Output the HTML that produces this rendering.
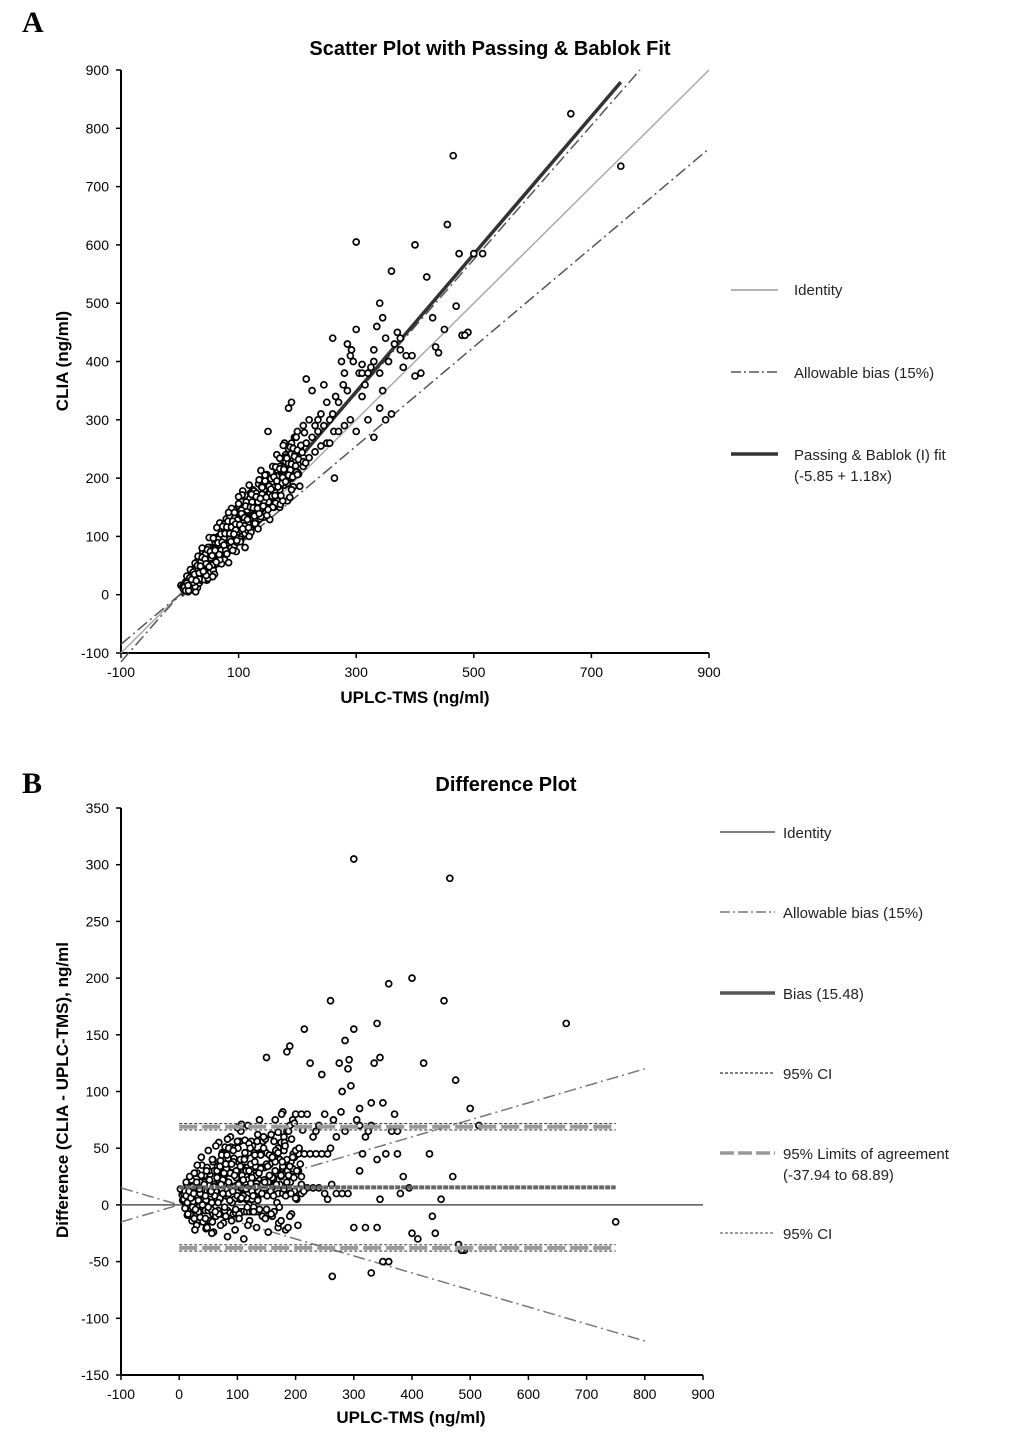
<!DOCTYPE html>
<html><head><meta charset="utf-8"><style>
body{margin:0;background:#fff;}
svg text{font-family:"Liberation Sans",Arial,sans-serif;}
</style></head><body>
<svg id="s" width="1033" height="1439" xmlns="http://www.w3.org/2000/svg">
<text x="22" y="32" font-weight="bold" font-size="30" style="font-family:'Liberation Serif',serif">A</text>
<text x="22" y="793" font-weight="bold" font-size="30" style="font-family:'Liberation Serif',serif">B</text>
<text x="490" y="55" text-anchor="middle" font-weight="bold" font-size="20">Scatter Plot with Passing &amp; Bablok Fit</text>
<text x="506" y="791" text-anchor="middle" font-weight="bold" font-size="20">Difference Plot</text>
<text transform="translate(68,361) rotate(-90)" text-anchor="middle" font-weight="bold" font-size="17">CLIA (ng/ml)</text>
<text x="415" y="703" text-anchor="middle" font-weight="bold" font-size="17">UPLC-TMS (ng/ml)</text>
<text transform="translate(68,1090) rotate(-90)" text-anchor="middle" font-weight="bold" font-size="17">Difference (CLIA - UPLC-TMS), ng/ml</text>
<text x="411" y="1423" text-anchor="middle" font-weight="bold" font-size="17">UPLC-TMS (ng/ml)</text>
<g font-size="15" fill="#222">
<g><line x1="731" x2="778" y1="290" y2="290" stroke="#999" stroke-width="1.5"/><text x="794" y="295">Identity</text></g>
<g><line x1="731" x2="778" y1="372" y2="372" stroke="#555" stroke-width="1.5" stroke-dasharray="10,3,2,3"/><text x="794" y="378">Allowable bias (15%)</text></g>
<g><line x1="731" x2="778" y1="454" y2="454" stroke="#333" stroke-width="3.5"/><text x="794" y="460">Passing &amp; Bablok (I) fit</text><text x="794" y="481">(-5.85 + 1.18x)</text></g>
<g><line x1="720" x2="775" y1="832" y2="832" stroke="#555" stroke-width="1.5"/><text x="783" y="838">Identity</text></g>
<g><line x1="720" x2="775" y1="912" y2="912" stroke="#777" stroke-width="1.5" stroke-dasharray="10,3,2,3"/><text x="783" y="918">Allowable bias (15%)</text></g>
<g><line x1="720" x2="775" y1="993" y2="993" stroke="#555" stroke-width="3.5"/><text x="783" y="999">Bias (15.48)</text></g>
<g><line x1="720" x2="775" y1="1073" y2="1073" stroke="#333" stroke-width="1.3" stroke-dasharray="3,2"/><text x="783" y="1079">95% CI</text></g>
<g><line x1="720" x2="775" y1="1153" y2="1153" stroke="#999" stroke-width="3.5" stroke-dasharray="14,4"/><text x="783" y="1159">95% Limits of agreement</text><text x="783" y="1180">(-37.94 to 68.89)</text></g>
<g><line x1="720" x2="775" y1="1233" y2="1233" stroke="#666" stroke-width="1.3" stroke-dasharray="3,2"/><text x="783" y="1239">95% CI</text></g>
</g>
<g id="ga"></g>
<g id="gb"></g>
</svg>
<script>
const uplc=[2,5,8,10,12,15,18,20,22,25,28,30,14,24,6,27,19,33,
32,35,38,40,42,45,48,50,52,55,58,60,36,44,53,57,47,39,62,34,41,49,56,59,46,
62,65,68,70,72,75,78,80,82,85,88,90,92,95,98,100,64,67,73,77,83,87,93,97,66,74,79,84,89,94,99,71,76,81,86,91,96,63,69,101,103,105,60,70,80,90,100,85,95,75,
102,105,108,110,112,115,118,120,122,125,128,130,132,135,138,140,142,145,148,150,106,111,116,121,126,131,136,141,146,104,113,119,124,129,134,139,144,149,117,127,137,147,109,114,123,133,143,107,150,115,120,125,
152,155,158,160,162,165,168,170,172,175,178,180,182,185,188,190,192,195,198,200,205,210,215,220,225,230,235,240,245,250,160,170,180,190,200,210,220,230,240,250,185,190,215,225,235,245,155,175,195,205,165,178,263,170,160,
255,260,262,265,270,275,278,280,285,290,292,295,300,305,310,315,320,325,330,335,340,345,350,355,360,365,370,375,380,385,300,320,330,340,350,360,255,270,280,290,260,285,310,375,340,310,330,
300,400,420,455,465,500,515,665,750,430,440,470,480,490,400,410,435,395,475,450,345,485];
const clia=[16,14,18,12,20,10,22,15,8,25,18,12,5,30,10,5,28,20,
40,30,48,35,55,40,60,45,38,65,50,72,25,30,80,42,70,60,55,50,45,52,58,35,25,
80,70,90,75,95,85,100,88,110,92,105,98,120,100,115,108,58,62,65,70,78,80,85,90,100,120,130,125,140,135,150,110,60,95,115,105,125,75,85,130,95,120,90,100,115,118,125,135,145,108,
140,110,130,125,145,120,140,135,155,130,150,145,165,140,160,150,175,155,170,160,100,105,110,115,120,125,130,135,140,160,170,165,180,175,190,185,200,195,150,160,170,180,118,132,142,152,162,178,280,130,120,150,
175,190,180,200,185,210,195,220,200,230,210,240,215,250,225,260,230,270,240,280,250,290,260,300,270,290,280,310,290,330,170,180,190,200,210,220,235,245,255,260,320,330,370,350,300,360,165,200,225,235,240,260,200,150,150,
300,310,280,340,330,400,360,380,350,410,420,400,455,380,340,360,380,390,420,460,500,475,440,400,555,430,450,420,390,410,280,300,270,320,300,310,260,280,290,300,440,430,380,440,380,395,400,
605,600,545,635,753,585,585,825,735,475,415,495,445,450,375,380,425,410,585,455,350,445];
const clusterUplc=[8,10,13,16,19,21,24,26,29,31,34,36,39,41,43,46,48,51,53,56,58,61,63,66,68,71,73,76,78,81,83,86,88,91,93,96,98,101,103,106,108,111,113,116,118,121,123,126,128,131,133,136,138,141,143,146,148,151,153,156,158,161,163,166,168,171,173,176,178,181,183,186,188,191,193,196,198,202,206,210];
const clusterDiff1=[5,-3,18,9,-8,22,3,-12,15,28,-6,10,35,-15,20,4,-20,30,12,-25,40,8,-10,25,55,-18,14,45,-5,32,-28,18,60,2,38,-22,24,50,-8,65,15,-30,42,6,70,-14,28,52,-2,34,-20,12,75,45,-10,22,58,8,-24,36,62,16,-6,48,28,-16,40,80,10,55,-22,30,65,20,-8,45,72,5,50,25];
const clusterDiff2=[12,20,-8,25,14,-2,28,16,35,-6,20,42,0,26,-12,33,48,10,-4,38,18,52,30,-8,6,44,22,-2,36,58,10,28,-14,48,16,30,68,-12,40,26,8,46,30,-18,54,36,12,-6,44,26,62,-4,32,18,50,-12,36,20,44,-8,24,56,38,2,64,18,-14,34,48,8,40,26,-10,58,32,12,48,-18,36,66];
const clusterDiff3=[8,2,12,6,16,10,-4,20,4,14,26,0,18,8,30,-2,22,12,40,16,-6,24,2,34,18,10,28,-10,44,20,4,36,12,26,-4,56,18,34,6,22,40,14,-2,30,50,24,8,38,16,4,28,44,10,60,20,-4,34,26,12,42,8,30,18,46,-2,26,38,14,52,20,-20,34,10,42,24,6,30,50,18,12];
const pbIntercept=-5.85, pbSlope=1.18, biasMean=15.48, loaLow=-37.94, loaHigh=68.89, ciHalf=2.8, allow=0.15;
const aXTicks=[-100,100,300,500,700,900], aYTicks=[-100,0,100,200,300,400,500,600,700,800,900];
const bXTicks=[-100,0,100,200,300,400,500,600,700,800,900], bYTicks=[-150,-100,-50,0,50,100,150,200,250,300,350];

const allX=uplc.slice(), allY=clia.slice();
[clusterDiff1,clusterDiff2,clusterDiff3].forEach((d,k)=>clusterUplc.forEach((x,i)=>{const xx=x+k*2;allX.push(xx);allY.push(xx+d[i]);}));

const NS="http://www.w3.org/2000/svg";
function mk(p,t,a){const e=document.createElementNS(NS,t);for(const k in a)e.setAttribute(k,a[k]);p.appendChild(e);return e;}
const axA=v=>121+(v+100)*588/1000, ayA=v=>653-(v+100)*583/1000;
const axB=v=>121+(v+100)*582/1000, ayB=v=>1375-(v+150)*567/500;
const ga=document.getElementById('ga'), gb=document.getElementById('gb');
function axes(g,X,Y,xt,yt,x0,x1,y0,y1,nm){
  let l=mk(g,'line',{x1:X(x0),x2:X(x0),y1:Y(y0),y2:Y(y1),stroke:'#000','stroke-width':2});
  
  l=mk(g,'line',{x1:X(x0),x2:X(x1),y1:Y(y0),y2:Y(y0),stroke:'#000','stroke-width':2});
  
  yt.forEach(v=>{mk(g,'line',{x1:X(x0)-5,x2:X(x0),y1:Y(v),y2:Y(v),stroke:'#000','stroke-width':1.5});
    const t=mk(g,'text',{x:X(x0)-12,y:Y(v)+5,'text-anchor':'end','font-size':14});t.textContent=v;
    });
  xt.forEach(v=>{mk(g,'line',{x1:X(v),x2:X(v),y1:Y(y0),y2:Y(y0)+5,stroke:'#000','stroke-width':1.5});
    const t=mk(g,'text',{x:X(v),y:Y(y0)+24,'text-anchor':'middle','font-size':14});t.textContent=v;
    });
}
function ln(g,X,Y,xa,ya,xb,yb,st,nm){const e=mk(g,'line',Object.assign({x1:X(xa),y1:Y(ya),x2:X(xb),y2:Y(yb),fill:'none'},st));
  return e;}
axes(ga,axA,ayA,aXTicks,aYTicks,-100,900,-100,900,'chart-a');
ln(ga,axA,ayA,-100,-100,900,900,{stroke:'#aaa','stroke-width':1.5},'identity-line');
ln(ga,axA,ayA,-100,-100*(1+allow),900/(1+allow),900,{stroke:'#555','stroke-width':1.5,'stroke-dasharray':'12,4,2,4'},'allowable-bias-upper');
ln(ga,axA,ayA,-100,-100*(1-allow),900,900*(1-allow),{stroke:'#555','stroke-width':1.5,'stroke-dasharray':'12,4,2,4'},'allowable-bias-lower');
ln(ga,axA,ayA,3,pbIntercept+pbSlope*3,750,pbIntercept+pbSlope*750,{stroke:'#333','stroke-width':3.5},'passing-bablok-fit');
allX.forEach((x,i)=>{const c=mk(ga,'circle',{cx:axA(x),cy:ayA(allY[i]),r:3,fill:'#fff',stroke:'#000','stroke-width':1.7});
  });
axes(gb,axB,ayB,bXTicks,bYTicks,-100,900,-150,350,'chart-b');
ln(gb,axB,ayB,-100,0,900,0,{stroke:'#555','stroke-width':1.5},'identity-line-b');
ln(gb,axB,ayB,-100,-100*allow,800,800*allow,{stroke:'#777','stroke-width':1.5,'stroke-dasharray':'12,4,2,4'},'allowable-bias-upper-b');
ln(gb,axB,ayB,-100,100*allow,800,-800*allow,{stroke:'#777','stroke-width':1.5,'stroke-dasharray':'12,4,2,4'},'allowable-bias-lower-b');
allX.forEach((x,i)=>{const c=mk(gb,'circle',{cx:axB(x),cy:ayB(allY[i]-x),r:3,fill:'#fff',stroke:'#000','stroke-width':1.7});
  });
ln(gb,axB,ayB,0,biasMean,750,biasMean,{stroke:'#666','stroke-width':4,'stroke-dasharray':'5,1'},'bias-line');
[loaHigh,loaLow].forEach(v=>{
  ln(gb,axB,ayB,0,v,750,v,{stroke:'#999','stroke-width':4,'stroke-dasharray':'18,5'},'limit-of-agreement');
  ln(gb,axB,ayB,0,v+ciHalf,750,v+ciHalf,{stroke:'#444','stroke-width':1.1,'stroke-dasharray':'3,2'},'ci-upper');
  ln(gb,axB,ayB,0,v-ciHalf,750,v-ciHalf,{stroke:'#444','stroke-width':1.1,'stroke-dasharray':'3,2'},'ci-lower');
});
</script>
</body></html>
